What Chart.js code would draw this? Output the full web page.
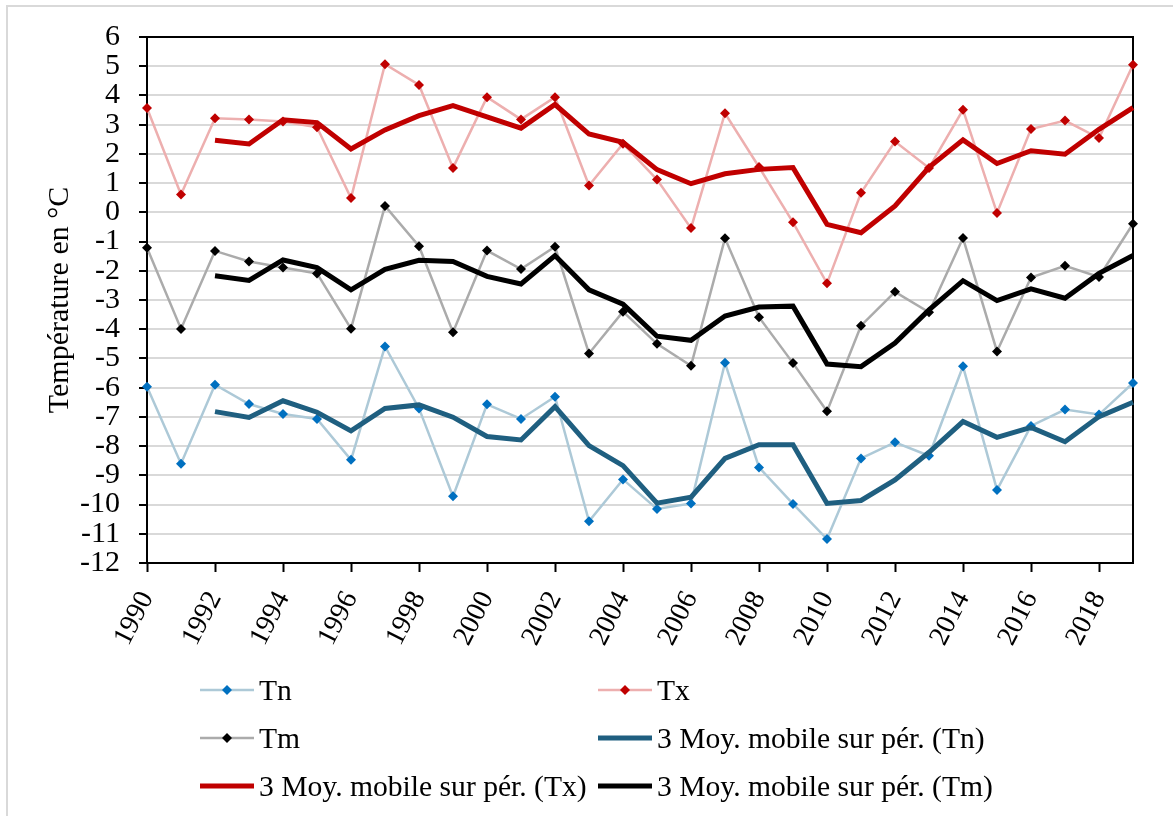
<!DOCTYPE html>
<html><head><meta charset="utf-8">
<script src="https://cdn.jsdelivr.net/npm/chart.js@4.4.1/dist/chart.umd.min.js"></script>
<style>
html,body{margin:0;padding:0;background:#fff;overflow:hidden;}
#wrap{position:relative;width:1173px;height:816px;overflow:hidden;}
#frame{position:absolute;left:6px;top:5px;width:1200px;height:900px;border:2px solid #d9d9d9;box-sizing:border-box;}
canvas{position:absolute;left:0;top:0;}
#legend{position:absolute;left:0;top:0;width:1173px;height:816px;pointer-events:none;font-family:"Liberation Serif","Times New Roman",serif;font-size:29.6px;color:#000;}
.item{position:absolute;display:flex;align-items:center;height:40px;white-space:nowrap;}
.item svg{margin-right:5px;}
</style></head>
<body><div id="wrap"><div id="frame"></div><canvas id="c" width="1173" height="816"></canvas><div id="legend"></div></div>
<script>
const years = [1990,1991,1992,1993,1994,1995,1996,1997,1998,1999,2000,2001,2002,2003,2004,2005,2006,2007,2008,2009,2010,2011,2012,2013,2014,2015,2016,2017,2018,2019];
const tn = [-5.97,-8.60,-5.90,-6.56,-6.90,-7.07,-8.47,-4.59,-6.71,-9.72,-6.57,-7.07,-6.31,-10.57,-9.14,-10.15,-9.96,-5.15,-8.73,-9.98,-11.18,-8.42,-7.87,-8.33,-5.27,-9.50,-7.31,-6.75,-6.92,-5.84];
const tx = [3.57,0.61,3.22,3.18,3.11,2.91,0.49,5.07,4.36,1.52,3.94,3.18,3.94,0.92,2.35,1.12,-0.54,3.39,1.55,-0.34,-2.43,0.67,2.42,1.52,3.51,-0.02,2.85,3.14,2.54,5.05];
const tm = [-1.21,-3.99,-1.32,-1.68,-1.89,-2.09,-3.98,0.22,-1.16,-4.10,-1.31,-1.94,-1.18,-4.83,-3.40,-4.50,-5.25,-0.89,-3.59,-5.16,-6.81,-3.88,-2.72,-3.42,-0.88,-4.76,-2.23,-1.83,-2.21,-0.39];
const maTn = [null,null,-6.82,-7.02,-6.45,-6.84,-7.48,-6.71,-6.59,-7.01,-7.67,-7.79,-6.65,-7.98,-8.67,-9.95,-9.75,-8.42,-7.95,-7.95,-9.96,-9.86,-9.16,-8.21,-7.16,-7.70,-7.36,-7.85,-6.99,-6.50];
const maTx = [null,null,2.47,2.34,3.17,3.07,2.17,2.82,3.31,3.65,3.27,2.88,3.69,2.68,2.40,1.46,0.98,1.32,1.47,1.53,-0.41,-0.70,0.22,1.54,2.48,1.67,2.11,1.99,2.84,3.58];
const maTm = [null,null,-2.17,-2.33,-1.63,-1.89,-2.65,-1.95,-1.64,-1.68,-2.19,-2.45,-1.48,-2.65,-3.14,-4.24,-4.38,-3.55,-3.24,-3.21,-5.19,-5.28,-4.47,-3.34,-2.34,-3.02,-2.62,-2.94,-2.09,-1.48];
const seriesNames = ['Tn','Tx','Tm','3 Moy. mobile sur pér. (Tn)','3 Moy. mobile sur pér. (Tx)','3 Moy. mobile sur pér. (Tm)'];
const yTitle = 'Température en °C';

const FONT = '"Liberation Serif","Times New Roman",serif';

function raw(label, data, line, mark){
  return {label, data, borderColor:line, backgroundColor:mark, pointBackgroundColor:mark, pointBorderColor:mark,
    borderWidth:2.5, pointStyle:'rectRot', pointRadius:5, pointBorderWidth:0, order:1, clip:false, tension:0};
}
function ma(label, data, color){
  return {label, data, borderColor:color, backgroundColor:color, borderWidth:5, pointRadius:0, order:0, clip:false, tension:0, borderJoinStyle:'miter'};
}

const datasets = [
  raw(seriesNames[0], tn, '#adc9d7', '#0070c0'),
  raw(seriesNames[1], tx, '#edafaf', '#c00000'),
  raw(seriesNames[2], tm, '#ababab', '#000000'),
  ma(seriesNames[3], maTn, '#1f5f80'),
  ma(seriesNames[4], maTx, '#c00000'),
  ma(seriesNames[5], maTm, '#000000')
];

const framePlugin = {
  id:'frame',
  beforeDatasetsDraw(chart){
    const {ctx, chartArea:a} = chart;
    ctx.save();
    ctx.strokeStyle = '#000';
    ctx.lineWidth = 2;
    ctx.strokeRect(a.left, a.top, a.right - a.left, a.bottom - a.top);
    ctx.restore();
  }
};

const chart = new Chart(document.getElementById('c'), {
  type:'line',
  data:{labels:years, datasets},
  options:{
    responsive:false, animation:false, devicePixelRatio:1,
    layout:{padding:{left:0, top:35, right:40, bottom:0}},
    plugins:{legend:{display:false}, tooltip:{enabled:false}},
    scales:{
      x:{type:'linear', min:years[0], max:years[years.length-1],
        afterFit(s){ s.height = 253; },
        ticks:{stepSize:2, includeBounds:false, autoSkip:false, maxRotation:63, minRotation:63, padding:14, color:'#000',
          font:{family:FONT, size:28}, callback:v => String(v)},
        grid:{drawOnChartArea:false, drawTicks:true, tickLength:9, tickColor:'#000', tickWidth:2},
        border:{color:'#000', width:2}},
      y:{min:-12, max:6,
        afterFit(s){ s.width = 147; },
        ticks:{stepSize:1, autoSkip:false, padding:19, color:'#000', font:{family:FONT, size:30}, callback:v => String(v)},
        grid:{color:'#d9d9d9', lineWidth:2, drawTicks:true, tickLength:8, tickColor:'#000'},
        border:{color:'#000', width:2},
        title:{display:true, text:yTitle, color:'#000', font:{family:FONT, size:30}, padding:{top:42, bottom:0}}}
    }
  },
  plugins:[framePlugin]
});

// HTML legend built from the datasets
const legend = document.getElementById('legend');
const colX = [200, 598], rowY = [690, 738, 786];
datasets.forEach((ds, i) => {
  const col = i % 2, row = Math.floor(i / 2);
  const div = document.createElement('div');
  div.className = 'item';
  div.style.left = colX[col] + 'px';
  div.style.top = (rowY[row] - 20) + 'px';
  const w = 54, h = 20;
  let svg = `<svg width="${w}" height="${h}" viewBox="0 0 ${w} ${h}"><line x1="0" y1="10" x2="${w}" y2="10" stroke="${ds.borderColor}" stroke-width="${ds.borderWidth}" stroke-linecap="${ds.pointRadius ? 'butt' : 'round'}"/>`;
  if (ds.pointRadius) {
    const r = ds.pointRadius, c = w / 2;
    svg += `<polygon points="${c},${10-r} ${c+r},10 ${c},${10+r} ${c-r},10" fill="${ds.pointBackgroundColor}"/>`;
  }
  svg += '</svg>';
  div.innerHTML = svg;
  const span = document.createElement('span');
  span.textContent = ds.label;
  div.appendChild(span);
  legend.appendChild(div);
});
</script>
</body></html>
